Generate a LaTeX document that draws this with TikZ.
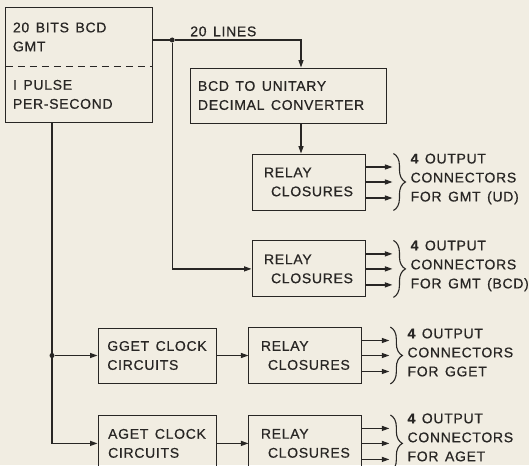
\documentclass[tikz,border=0pt]{standalone}
\usepackage{fontspec}
\newfontfamily\letterfont[LetterSpace=5,FakeBold=0.6]{Liberation Sans}
\newcommand{\lettering}{\letterfont\fontsize{14}{19}\selectfont\spaceskip=6.5pt plus 1pt\relax}
\usetikzlibrary{arrows.meta,positioning,fit,decorations.pathreplacing}
\definecolor{ink}{RGB}{40,38,36}
\definecolor{paper}{RGB}{241,237,226}

\begin{document}
\begin{tikzpicture}[
  x=1pt, y=-1pt,
  >={Triangle[length=7.5pt,width=5pt]},
  box/.style={draw=ink, line width=0.9pt, minimum height=55pt, inner xsep=7pt, align=left, font=\lettering, text=ink},
  halfbox/.style={minimum width=146pt, text width=132pt, inner xsep=7pt, align=flush left, font=\lettering, text=ink},
  relaybox/.style={box, minimum width=113pt, minimum height=56pt},
  clockbox/.style={box, minimum width=118pt},
  link/.style={draw=ink, line width=1.2pt},
  dot/.style={circle, fill=ink, inner sep=0pt, minimum size=5pt},
  outlabel/.style={align=left, font=\lettering, text=ink, inner sep=0pt, anchor=west},
  brace/.style={draw=ink, line width=1.1pt, decorate, decoration={brace, amplitude=12pt}}
]
  \useasboundingbox (0,0) rectangle (529,465);
  \clip (0,0) rectangle (529,465);
  \fill[paper] (0,0) rectangle (529,465);

  % source box, split by a dashed line
  \node[halfbox, minimum height=58pt] (gmt) at (79,37) {20 BITS BCD\\GMT};
  \node[halfbox, minimum height=56pt, below=0pt of gmt] (pps) {I PULSE\\PER-SECOND};
  \node[draw=ink, line width=0.9pt, fit=(gmt)(pps), inner sep=0pt] (src) {};
  \draw[ink, line width=0.8pt, dash pattern=on 7pt off 5pt] (gmt.south west) -- (gmt.south east);

  \node[box, minimum width=196pt, text width=180pt, inner xsep=8pt, align=flush left] (conv) at (288,95.5)
    {BCD TO UNITARY\\DECIMAL CONVERTER};
  \node[relaybox] (relay1) at (308.5,182) {RELAY\\\hspace*{7pt}CLOSURES};
  \node[relaybox, below=30pt of relay1] (relay2) {RELAY\\\hspace*{7pt}CLOSURES};
  \node[clockbox] (gget) at (157,355.5) {GGET CLOCK\\CIRCUITS};
  \node[relaybox, right=32pt of gget] (relay3) {RELAY\\\hspace*{7pt}CLOSURES};
  \node[clockbox, below=32pt of gget] (aget) {AGET CLOCK\\CIRCUITS};
  \node[relaybox, right=32pt of aget] (relay4) {RELAY\\\hspace*{7pt}CLOSURES};

  % 20 lines of BCD time code
  \node[dot] (split) at ([xshift=20pt, yshift=-3pt]gmt.east) {};
  \node[font=\lettering, text=ink, inner sep=0pt, above right=1.5pt and 16pt of split] (lines) {20 LINES};
  \draw[link] ([yshift=-3pt]gmt.east) -- (split);
  \draw[link, ->] (split) -| ([xshift=13pt]conv.north);
  \draw[link, ->] ([xshift=13pt]conv.south) -- ([xshift=13pt]conv.south |- relay1.north);
  \draw[link, ->] (split) |- (relay2.west);

  % pulse per second bus
  \coordinate (bus) at ([xshift=-27pt]pps.south);
  \node[dot] (tap) at (bus |- gget.west) {};
  \draw[link, ->] (bus) |- (aget.west);
  \draw[link, ->] (tap) -- (gget.west);
  \draw[link, ->] (gget) -- (relay3);
  \draw[link, ->] (aget) -- (relay4);

  % output connectors
  \foreach \r/\txt/\up in {relay1/FOR GMT (UD)/3, relay2/FOR GMT (BCD)/3, relay3/FOR GGET/3, relay4/FOR AGET/6} {
    \foreach \dy in {15,0,-16}
      \draw[link, ->] ([yshift=\dy pt]\r.east) -- ++(27,0);
    \draw[brace] ([xshift=28pt]\r.north east) -- ([xshift=28pt]\r.south east);
    \node[outlabel] at ([xshift=45pt, yshift=\up pt]\r.east) {{\bfseries 4} OUTPUT\\CONNECTORS\\\txt};
  }
\end{tikzpicture}
\end{document}
